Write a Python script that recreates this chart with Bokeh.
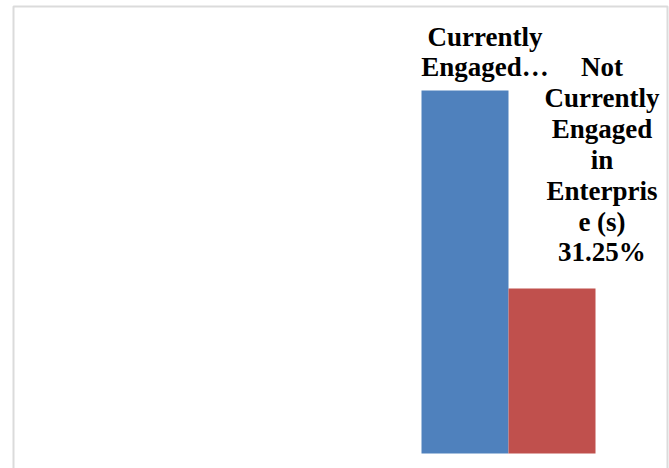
from bokeh.plotting import figure
from bokeh.models import ColumnDataSource, Range1d, BoxAnnotation
from bokeh.core.properties import value
from bokeh.embed import file_html
from bokeh.resources import INLINE

# Share of respondents by enterprise engagement status
categories = ["Currently Engaged in Enterprise (s)", "Not Currently Engaged in Enterprise (s)"]
shares = [68.75, 31.25]
colors = ["#4F81BD", "#C0504D"]
labels = [
    "Currently\nEngaged\u2026",
    "Not\nCurrently\nEngaged\nin\nEnterpris\ne (s)\n" + f"{shares[1]:.2f}%",
]

W, H = 669, 468

# Layout in pixels: first bar centre, pixels per category, baseline, pixels per percent
X0_PX, X_STEP = 464.5, 87.0
Y0_PX, Y_STEP = 453.0, 5.28


def x_of(px):
    return (px - X0_PX) / X_STEP


def y_of(py):
    return (Y0_PX - py) / Y_STEP


p = figure(
    width=W, height=H,
    output_backend="svg", toolbar_location=None,
    x_range=Range1d(x_of(0), x_of(W)),
    y_range=Range1d(y_of(H), y_of(0)),
    min_border=0,
)
p.axis.visible = False
p.grid.visible = False
p.outline_line_color = None
p.background_fill_color = "white"
p.border_fill_color = "white"

# chart-area border (open at the bottom edge of the page)
p.add_layout(BoxAnnotation(
    left=x_of(13), right=x_of(667), top=y_of(6), bottom=y_of(H + 20),
    fill_color=None, line_color="#888888", line_width=2,
))

src = ColumnDataSource(dict(
    x=list(range(len(categories))),
    top=shares,
    color=colors,
    label=labels,
    dx=[20, 50],
    dy=[-8, -21],
))

p.vbar(x="x", top="top", bottom=0, width=1.0, fill_color="color",
       line_color=None, source=src)

p.text(x="x", y="top", text="label", x_offset="dx", y_offset="dy",
       text_align="center", text_baseline="bottom",
       text_font=value("Liberation Serif"), text_font_style="bold",
       text_font_size="27px", text_line_height=1.03, text_color="black",
       source=src)

open("out.html", "w").write(file_html(p, INLINE))
